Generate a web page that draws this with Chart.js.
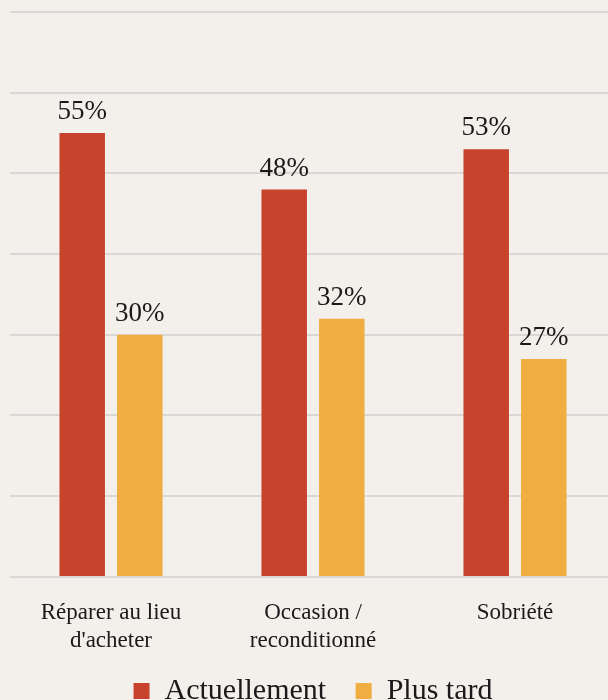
<!DOCTYPE html>
<html>
<head>
<meta charset="utf-8">
<script src="https://cdn.jsdelivr.net/npm/chart.js@4"></script>
<style>
  html, body { margin: 0; padding: 0; background: #f3efeb; overflow: hidden; }
  #wrap { position: absolute; left: 0; top: 0; width: 616px; height: 716px; }
</style>
</head>
<body>
<div id="wrap"><canvas id="bar-chart"></canvas></div>
<script>
var categories = [["Réparer au lieu", "d'acheter"], ["Occasion /", "reconditionné"], ["Sobriété"]];
var actuellement = [55, 48, 53];
var plusTard = [30, 32, 27];
var yMax = 70;
var yStep = 10;

// draws the "55%" labels above each bar
var barLabels = {
  id: 'barLabels',
  afterDatasetsDraw: function(chart) {
    var ctx = chart.ctx;
    ctx.save();
    ctx.font = '27px "Liberation Serif"';
    ctx.fillStyle = '#1a1a1a';
    ctx.textAlign = 'center';
    ctx.textBaseline = 'alphabetic';
    chart.data.datasets.forEach(function(ds, i) {
      chart.getDatasetMeta(i).data.forEach(function(bar, j) {
        ctx.fillText(ds.data[j] + '%', bar.x, bar.y - 14);
      });
    });
    ctx.restore();
  }
};

var ctx = document.getElementById("bar-chart").getContext('2d');
var myChart = new Chart(ctx, {
  type: 'bar',
  data: {
    labels: categories,
    datasets: [{
        label: "Actuellement",
        data: actuellement,
        backgroundColor: "#c8432c"
      }, {
        label: "Plus tard",
        data: plusTard,
        backgroundColor: "#f0ad42"
      }
    ]
  },
  plugins: [barLabels],
  options: {
    responsive: true,
    maintainAspectRatio: false,
    animation: false,
    layout: { padding: { left: 10, right: 0, top: 12, bottom: 0 } },
    datasets: {
      bar: { categoryPercentage: 0.57, barPercentage: 0.79 }
    },
    scales: {
      x: {
        grid: { display: false },
        border: { display: false },
        ticks: {
          color: '#1a1a1a',
          font: { family: 'Liberation Serif', size: 23, lineHeight: 1.22 },
          padding: 14,
          maxRotation: 0
        }
      },
      y: {
        min: 0,
        max: yMax,
        ticks: { display: false, stepSize: yStep },
        border: { display: false },
        grid: { color: '#d9d8d6', lineWidth: 2, drawTicks: false }
      }
    },
    plugins: {
      tooltip: { enabled: false },
      legend: {
        position: 'bottom',
        labels: {
          color: '#1a1a1a',
          font: { family: 'Liberation Serif', size: 30 },
          boxWidth: 16,
          boxHeight: 16,
          padding: 7,
          // small padding keeps the legend low, extra spaces widen the gap between items
          generateLabels: function(chart) {
            var items = Chart.defaults.plugins.legend.labels.generateLabels(chart);
            items.forEach(function(it, i) {
              if (i < items.length - 1) it.text = it.text + '   ';
            });
            return items;
          }
        }
      }
    }
  }
});
</script>
</body>
</html>
